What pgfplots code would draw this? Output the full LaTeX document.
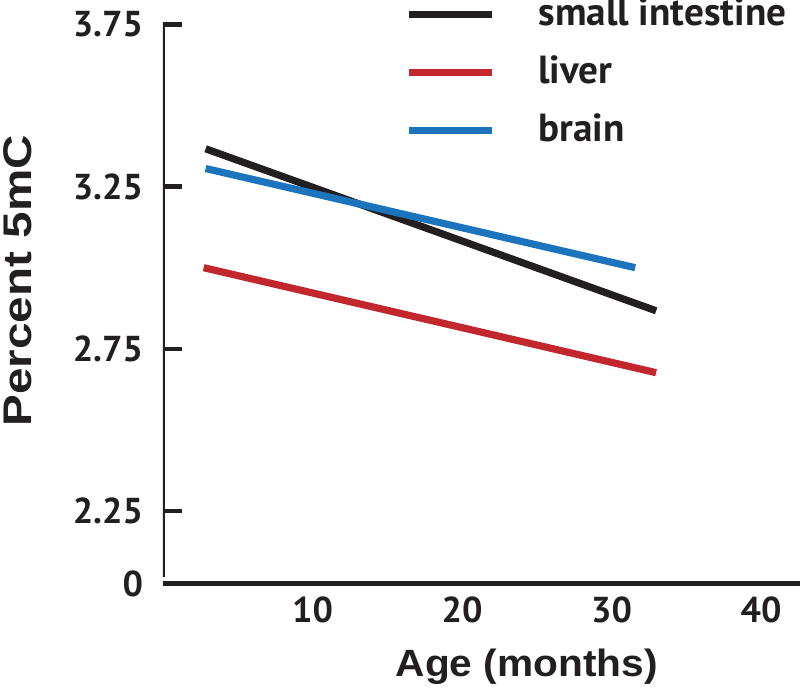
\documentclass[border=0pt]{standalone}
\usepackage{fontspec}
\setmainfont{PT Sans}
\newfontfamily\xlabfont[FakeStretch=1.07]{Liberation Sans}
\newfontfamily\ylabfont[FakeStretch=1.19]{Liberation Sans}
\usepackage{pgfplots}
\pgfplotsset{compat=1.18}
\definecolor{inkBlack}{HTML}{231F20}
\definecolor{inkRed}{HTML}{C1272D}
\definecolor{inkBlue}{HTML}{1C75BC}

\begin{document}
\begin{tikzpicture}
\useasboundingbox (-81.5pt,-52pt) rectangle (318.5pt,292pt);
\begin{axis}[
  at={(0pt,0pt)}, anchor=south west,
  scale only axis, width=318.5pt, height=280.8pt,
  xmin=0, xmax=42.6, ymin=2.024, ymax=3.757,
  axis x line*=bottom, axis y line*=left,
  axis line style={-},
  x axis line style={draw=inkBlack, line width=2.5pt},
  y axis line style={draw=none},
  xtick={10,20,30,40}, xticklabels={10,20,30,40},
  xtick style={draw=none},
  ytick={2.25,2.75,3.25,3.75}, yticklabels={2.25,2.75,3.25,3.75},
  extra y ticks={2.024}, extra y tick labels={0},
  extra y tick style={major tick length=0pt},
  tick align=inside, major tick length=9.5pt,
  ytick style={draw=inkBlack, line width=2.2pt},
  ticklabel style={font=\bfseries\fontsize{18}{21}\selectfont, text=inkBlack},
  yticklabel style={anchor=east, xshift=-6.5pt},
  xticklabel style={yshift=-3pt},
  xlabel={Age (months)},
  xlabel style={at={(axis description cs:0.571,-0.1655)}, anchor=base,
    font=\xlabfont\bfseries\fontsize{19}{22}\selectfont, text=inkBlack},
  ylabel={Percent 5mC},
  ylabel style={at={(axis description cs:-0.2057,0.54)}, anchor=base, rotate=0,
    font=\ylabfont\bfseries\fontsize{20}{24}\selectfont, text=inkBlack},
  legend cell align=left,
  legend image code/.code={\draw[#1] (0pt,0pt) -- (41.5pt,0pt);},
  legend style={at={(axis description cs:0.3797,1.0666)}, anchor=north west,
    draw=none, fill=none, inner sep=0pt, row sep=0pt,
    /tikz/every odd column/.append style={column sep=21.5pt},
    font=\bfseries\fontsize{19.6}{22}\selectfont, text=inkBlack,
    nodes={inner sep=0pt, text height=20.25pt, text depth=8.75pt}},
]
\addplot[inkBlack, line width=3.6pt] coordinates {(2.85,3.367) (32.98,2.867)};
\addlegendentry{small intestine}
\addplot[inkRed, line width=3.6pt] coordinates {(2.72,3.0) (32.98,2.676)};
\addlegendentry{liver}
\addplot[inkBlue, line width=3.6pt] coordinates {(2.85,3.306) (31.58,3.0)};
\addlegendentry{brain}
\draw[inkBlack, line width=2.4pt] (axis cs:0,2.0456) -- (axis cs:0,3.757);
\end{axis}
\end{tikzpicture}
\end{document}
